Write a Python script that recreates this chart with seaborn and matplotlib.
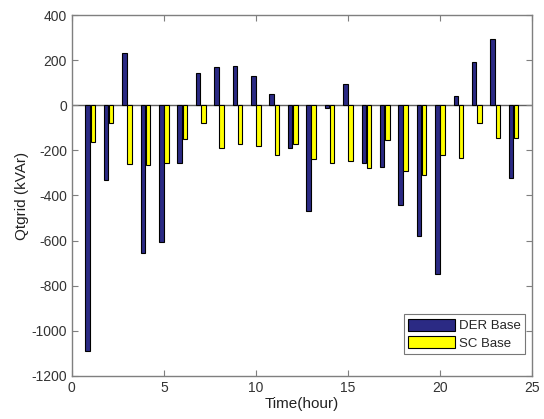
import pandas as pd
import seaborn as sns
import matplotlib.pyplot as plt

hours = list(range(1, 25))
der_base = [-1090, -333, 232, -655, -606, -256, 144, 170, 176, 130, 49, -190,
            -468, -10, 96, -258, -274, -441, -582, -748, 41, 190, 296, -323]
sc_base = [-165, -77, -262, -264, -255, -148, -77, -188, -170, -180, -220, -173,
           -240, -258, -249, -278, -154, -290, -308, -219, -234, -78, -145, -145]

df = pd.DataFrame({
    'hour': hours * 2,
    'Qtgrid': der_base + sc_base,
    'case': ['DER Base'] * 24 + ['SC Base'] * 24,
})

sns.set_style('white')
plt.rcParams['font.family'] = ['Liberation Sans', 'DejaVu Sans']
plt.rcParams['axes.unicode_minus'] = False

fig, ax = plt.subplots(figsize=(5.44, 4.19), dpi=100)
fig.subplots_adjust(left=0.132, right=0.978, top=0.964, bottom=0.103)

sns.barplot(data=df, x='hour', y='Qtgrid', hue='case', native_scale=True,
            palette=['#2b2a84', '#ffff00'], saturation=1, width=0.56, gap=0.12,
            edgecolor='black', linewidth=0.8, ax=ax)

ax.axhline(0, color='#606060', linewidth=1, zorder=0.5)
ax.set_xlim(0, 25)
ax.set_ylim(-1200, 400)
ax.set_xticks(range(0, 26, 5))
ax.set_yticks(range(-1200, 401, 200))
ax.set_xlabel('Time(hour)', fontsize=11, color='#222222', labelpad=2)
ax.set_ylabel('Qtgrid (kVAr)', fontsize=11, color='#222222', labelpad=2)
ax.tick_params(direction='in', length=4, width=0.8, colors='#7f7f7f',
               labelcolor='#333333', labelsize=10,
               bottom=True, left=True, top=True, right=True)
for sp in ax.spines.values():
    sp.set_color('#7f7f7f')
    sp.set_linewidth(1)

leg = ax.legend(loc='lower right', bbox_to_anchor=(0.985, 0.06), fontsize=9.5,
                frameon=True, fancybox=False, handlelength=3.5, handleheight=1.0,
                borderpad=0.35, labelspacing=0.3, handletextpad=0.3,
                borderaxespad=0)
leg.get_frame().set_edgecolor('#555555')
leg.get_frame().set_linewidth(0.8)

fig.savefig('out.png', dpi=100)
